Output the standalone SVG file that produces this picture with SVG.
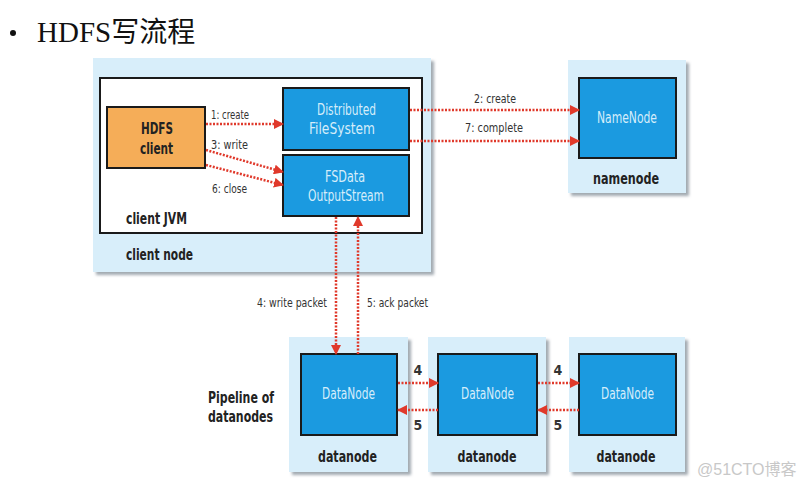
<svg xmlns="http://www.w3.org/2000/svg" width="804" height="488" viewBox="0 0 804 488">
<defs>
<marker id="ah" viewBox="0 0 10 10" refX="9" refY="5" markerWidth="10" markerHeight="10" markerUnits="userSpaceOnUse" orient="auto">
<path d="M0,0 L10,5 L0,10 z" fill="#e0392b"/>
</marker>
<filter id="sh" x="-10%" y="-10%" width="130%" height="130%">
<feDropShadow dx="3" dy="3" stdDeviation="1.5" flood-color="#7a8590" flood-opacity="0.7"/>
</filter>
</defs>
<style>
.outer{fill:#d8eefa;filter:url(#sh)}
.blue{fill:#1b9ae0;stroke:#1a1a1a;stroke-width:2}
.bt{font-family:"Liberation Sans Narrow","DejaVu Sans Condensed","Liberation Sans",sans-serif;font-size:16px;fill:#d6edfa;text-anchor:middle}
.lbl{font-family:"Liberation Sans Narrow","DejaVu Sans Condensed","Liberation Sans",sans-serif;font-size:16px;font-weight:bold;fill:#222}
.sm{font-family:"Liberation Sans Narrow","DejaVu Sans Condensed","Liberation Sans",sans-serif;font-size:13px;fill:#333}
.num{font-family:"Liberation Sans Narrow","DejaVu Sans Condensed","Liberation Sans",sans-serif;font-size:14px;font-weight:bold;fill:#333;text-anchor:middle}
.ar{stroke:#e0392b;stroke-width:2.5;stroke-dasharray:2 1.5;fill:none;marker-end:url(#ah)}
</style>
<rect width="804" height="488" fill="#ffffff"/>
<g id="title">
<circle cx="13" cy="33" r="3" fill="#111"/>
<text x="37" y="42" font-family="Liberation Serif,'Noto Sans CJK SC',serif" font-size="29" fill="#111">HDFS<tspan font-family="'Noto Sans CJK SC',sans-serif" font-size="28">写流程</tspan></text>
</g>
<g id="client-node">
<rect class="outer" x="93" y="58" width="338" height="214"/>
<rect x="100" y="78" width="322" height="155" fill="#ffffff" stroke="#1a1a1a" stroke-width="2"/>
<text class="lbl" x="126" y="224" textLength="61" lengthAdjust="spacingAndGlyphs">client JVM</text>
<text class="lbl" x="126" y="260" textLength="67" lengthAdjust="spacingAndGlyphs">client node</text>
</g>
<g id="hdfs-client">
<rect x="107" y="107" width="98" height="61" fill="#f5ad58" stroke="#1a1a1a" stroke-width="2"/>
<text class="lbl" x="141" y="134" font-size="18" textLength="32" lengthAdjust="spacingAndGlyphs">HDFS</text>
<text class="lbl" x="140" y="154" font-size="18" textLength="33" lengthAdjust="spacingAndGlyphs">client</text>
</g>
<g id="dfs">
<rect class="blue" x="283" y="88" width="126" height="62"/>
<text class="bt" x="346.5" y="115" textLength="59" lengthAdjust="spacingAndGlyphs">Distributed</text>
<text class="bt" x="342" y="134" textLength="66" lengthAdjust="spacingAndGlyphs">FileSystem</text>
</g>
<g id="fsdos">
<rect class="blue" x="283" y="155" width="126" height="61"/>
<text class="bt" x="345" y="182" textLength="40" lengthAdjust="spacingAndGlyphs">FSData</text>
<text class="bt" x="346" y="201" textLength="76" lengthAdjust="spacingAndGlyphs">OutputStream</text>
</g>
<g id="namenode">
<rect class="outer" x="568" y="60" width="118" height="133"/>
<rect class="blue" x="579" y="78" width="97" height="80"/>
<text class="bt" x="627" y="123" textLength="60" lengthAdjust="spacingAndGlyphs">NameNode</text>
<text class="lbl" x="626" y="184" text-anchor="middle" textLength="66" lengthAdjust="spacingAndGlyphs">namenode</text>
</g>
<g id="datanode1">
<rect class="outer" x="289" y="337" width="119" height="135"/>
<rect class="blue" x="301" y="354" width="96" height="81"/>
<text class="bt" x="348.5" y="399" textLength="53" lengthAdjust="spacingAndGlyphs">DataNode</text>
<text class="lbl" x="347.5" y="462" text-anchor="middle" textLength="59" lengthAdjust="spacingAndGlyphs">datanode</text>
</g>
<g id="datanode2">
<rect class="outer" x="428" y="337" width="118" height="135"/>
<rect class="blue" x="438" y="354" width="99" height="81"/>
<text class="bt" x="487.5" y="399" textLength="53" lengthAdjust="spacingAndGlyphs">DataNode</text>
<text class="lbl" x="487" y="462" text-anchor="middle" textLength="59" lengthAdjust="spacingAndGlyphs">datanode</text>
</g>
<g id="datanode3">
<rect class="outer" x="569" y="337" width="116" height="135"/>
<rect class="blue" x="579" y="354" width="97" height="81"/>
<text class="bt" x="627.5" y="399" textLength="53" lengthAdjust="spacingAndGlyphs">DataNode</text>
<text class="lbl" x="626" y="462" text-anchor="middle" textLength="59" lengthAdjust="spacingAndGlyphs">datanode</text>
</g>
<g id="pipeline-label">
<text class="lbl" x="208" y="403" textLength="66" lengthAdjust="spacingAndGlyphs">Pipeline of</text>
<text class="lbl" x="208" y="422" textLength="65" lengthAdjust="spacingAndGlyphs">datanodes</text>
</g>
<g id="connectors">
<line class="ar" x1="206" y1="124" x2="283" y2="124"/>
<line class="ar" x1="206" y1="150" x2="283" y2="172"/>
<line class="ar" x1="206" y1="165" x2="283" y2="185"/>
<line class="ar" x1="410" y1="110" x2="579" y2="110"/>
<line class="ar" x1="410" y1="141" x2="579" y2="141"/>
<line class="ar" x1="336" y1="217" x2="336" y2="354"/>
<line class="ar" x1="358" y1="354" x2="358" y2="217"/>
<line class="ar" x1="398" y1="383" x2="438" y2="383"/>
<line class="ar" x1="438" y1="410" x2="398" y2="410"/>
<line class="ar" x1="538" y1="383" x2="579" y2="383"/>
<line class="ar" x1="579" y1="410" x2="538" y2="410"/>
</g>
<g id="connector-labels">
<text class="sm" x="211" y="119" textLength="38" lengthAdjust="spacingAndGlyphs">1: create</text>
<text class="sm" x="211" y="149" textLength="37" lengthAdjust="spacingAndGlyphs">3: write</text>
<text class="sm" x="212" y="193" textLength="35" lengthAdjust="spacingAndGlyphs">6: close</text>
<text class="sm" x="474" y="103" textLength="42" lengthAdjust="spacingAndGlyphs">2: create</text>
<text class="sm" x="465" y="132" textLength="58" lengthAdjust="spacingAndGlyphs">7: complete</text>
<text class="sm" x="257" y="307" textLength="70" lengthAdjust="spacingAndGlyphs">4: write packet</text>
<text class="sm" x="367" y="307" textLength="61" lengthAdjust="spacingAndGlyphs">5: ack packet</text>
<text class="num" x="418" y="375">4</text>
<text class="num" x="418" y="430">5</text>
<text class="num" x="558" y="375">4</text>
<text class="num" x="558" y="430">5</text>
</g>
<text x="697" y="475" font-family="'Liberation Sans','Noto Sans CJK SC',sans-serif" font-size="16" fill="#c8c8c8">@51CTO博客</text>
</svg>
